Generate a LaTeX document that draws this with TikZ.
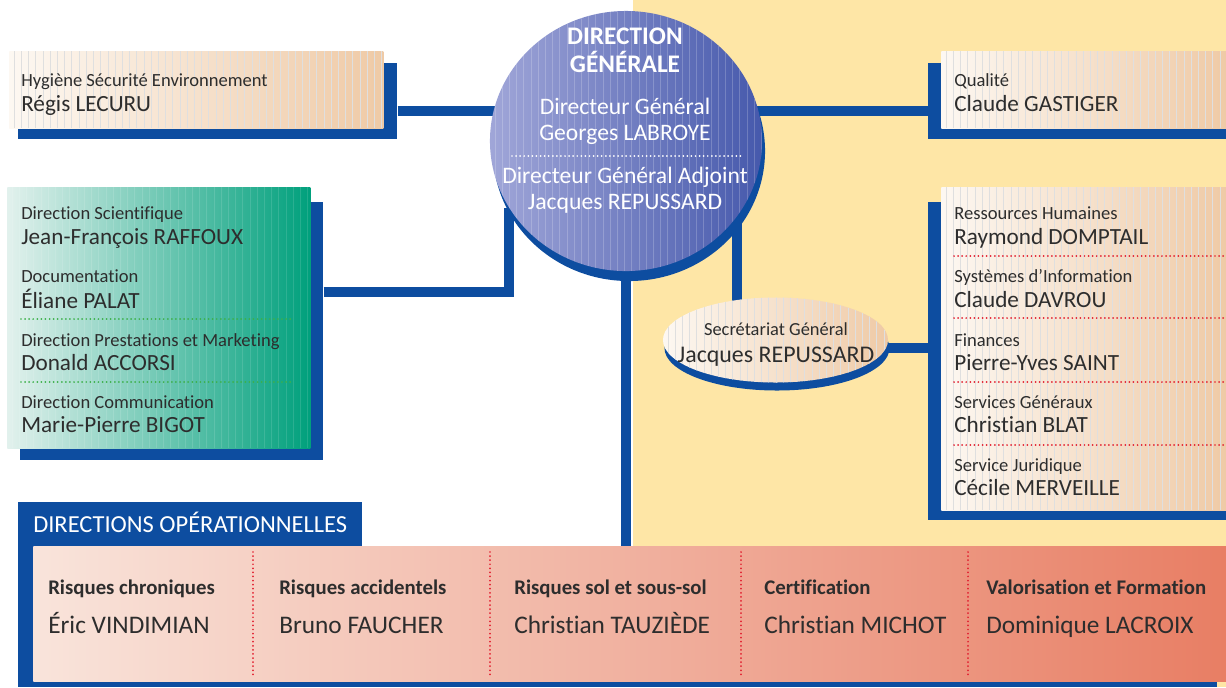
\documentclass[tikz,border=0pt]{standalone}
\usepackage{fontspec}
\setmainfont{Carlito}[Ligatures=NoCommon]
\usepackage{tikz}
\usepackage{xcolor}
\usetikzlibrary{backgrounds,shapes.geometric}

\definecolor{orgblue}{RGB}{13,77,160}
\definecolor{sand}{RGB}{254,230,166}
\definecolor{peachL}{RGB}{253,248,242}
\definecolor{peachR}{RGB}{239,202,166}
\definecolor{greenL}{RGB}{226,241,237}
\definecolor{greenR}{RGB}{0,160,124}
\definecolor{salmonL}{RGB}{249,228,219}
\definecolor{salmonR}{RGB}{232,126,100}
\definecolor{discL}{RGB}{160,166,216}
\definecolor{discR}{RGB}{70,89,172}
\definecolor{ink}{RGB}{45,45,45}
\definecolor{dotred}{RGB}{226,32,48}
\definecolor{dotgreen}{RGB}{60,176,74}

\tikzset{
  ribs/.style={path picture={\foreach \k in {0.12,0.3,...,11.9}
      \draw[#1, line width=0.3pt] ([xshift=\k cm]path picture bounding box.north west) -- ([xshift=\k cm]path picture bounding box.south west);}},
  ribs/.default={gray!25},
  shadowbox/.style={rectangle, fill=orgblue, anchor=north west, inner sep=0pt},
  peachbox/.style={rectangle, anchor=north west, inner sep=0pt, left color=peachL, right color=peachR, ribs},
  greenbox/.style={rectangle, anchor=north west, inner sep=0pt, left color=greenL, right color=greenR, ribs={white, opacity=0.12}},
  salmonbox/.style={rectangle, anchor=north west, inner sep=0pt, left color=salmonL, right color=salmonR},
  link/.style={draw=orgblue, line width=0.25cm},
  reddots/.style={draw=dotred, line width=1.4pt, line cap=round, dash pattern=on 0pt off 2.9pt},
  greendots/.style={draw=dotgreen, line width=1.4pt, line cap=round, dash pattern=on 0pt off 2.9pt},
  whitedots/.style={draw=white, line width=1.4pt, line cap=round, dash pattern=on 0pt off 2.9pt},
  unit/.style={anchor=base west, inner sep=0pt, text=ink, font=\fontsize{13.2}{16}\selectfont},
  boss/.style={anchor=base west, inner sep=0pt, text=ink, font=\fontsize{16.5}{20}\selectfont},
  dgtitle/.style={anchor=base, inner sep=0pt, text=white, font=\bfseries\fontsize{18}{20}\selectfont},
  dgname/.style={anchor=base, inner sep=0pt, text=white, font=\fontsize{16.8}{21}\selectfont},
  colunit/.style={anchor=base west, inner sep=0pt, text=ink, font=\bfseries\fontsize{14.8}{17}\selectfont},
  colboss/.style={anchor=base west, inner sep=0pt, text=ink, font=\fontsize{18}{21}\selectfont}
}

\begin{document}
\begin{tikzpicture}[x=0.025cm, y=-0.025cm]
\useasboundingbox (0,0) rectangle (1226,687);

% fond
\begin{pgfonlayer}{background}
  \fill[white] (0,0) rectangle (1226,687);
  \fill[sand] (633,0) rectangle (1226,687);
\end{pgfonlayer}

% Hygiene securite environnement
\node[shadowbox, minimum width=9.475cm, minimum height=1.9cm] (hsesh) at (18,63) {};
\node[peachbox, minimum width=9.35cm, minimum height=1.925cm] (hse) at (9,51) {};
\node[unit] (hset) at (21,86) {Hygiène Sécurité Environnement};
\node[boss] (hsen) at (21,111) {Régis LECURU};

% Qualite
\node[shadowbox, minimum width=7.45cm, minimum height=1.9cm] (qualsh) at (928,63) {};
\node[peachbox, minimum width=7.125cm, minimum height=1.925cm] (qual) at (941,51) {};
\node[unit] (qualt) at (954,86) {Qualité};
\node[boss] (qualn) at (954,111) {Claude GASTIGER};

% directions rattachees
\node[shadowbox, minimum width=7.575cm, minimum height=6.45cm] (scish) at (20,202) {};
\node[greenbox, minimum width=7.575cm, minimum height=6.525cm] (sci) at (7,187) {};
\node[unit] (scit) at (21,219) {Direction Scientifique};
\node[boss] (scin) at (21,244) {Jean-François RAFFOUX};
\node[unit] (doct) at (21,282) {Documentation};
\node[boss] (docn) at (21,308) {Éliane PALAT};
\node[unit] (mktt) at (21,346) {Direction Prestations et Marketing};
\node[boss] (mktn) at (21,370) {Donald ACCORSI};
\node[unit] (comt) at (21,408) {Direction Communication};
\node[boss] (comn) at (21,432) {Marie-Pierre BIGOT};
\draw[greendots] (21,319) -- (293,319);
\draw[greendots] (21,382) -- (293,382);

% services generaux
\node[shadowbox, minimum width=7.45cm, minimum height=7.95cm] (adminsh) at (928,202) {};
\node[peachbox, minimum width=7.125cm, minimum height=8.075cm] (admin) at (941,187) {};
\node[unit] (rht) at (954,219) {Ressources Humaines};
\node[boss] (rhn) at (954,244) {Raymond DOMPTAIL};
\node[unit] (sit) at (954,282) {Systèmes d’Information};
\node[boss] (sin) at (954,307) {Claude DAVROU};
\node[unit] (fint) at (954,346) {Finances};
\node[boss] (finn) at (954,370) {Pierre-Yves SAINT};
\node[unit] (sgxt) at (954,408) {Services Généraux};
\node[boss] (sgxn) at (954,432) {Christian BLAT};
\node[unit] (jurt) at (954,471) {Service Juridique};
\node[boss] (jurn) at (954,495) {Cécile MERVEILLE};
\foreach \y in {256,318,382,445}
  \draw[reddots] (954,\y) -- (1226,\y);

% direction generale
\node[ellipse, fill=orgblue, minimum width=6.8cm, minimum height=6.5cm, inner sep=0pt] (dgsh) at (629,151) {};
\node[ellipse, left color=discL, right color=discR, ribs={white, opacity=0.2}, minimum width=6.8cm, minimum height=6.5cm, inner sep=0pt] (dg) at (626,141) {};
\node[dgtitle] (dgt1) at (625,44) {DIRECTION};
\node[dgtitle] (dgt2) at (625,72) {GÉNÉRALE};
\node[dgname] (dgf) at (625,114) {Directeur Général};
\node[dgname] (dgn) at (625,140) {Georges LABROYE};
\draw[whitedots] (512,156) -- (741,156);
\node[dgname] (dgaf) at (625,183) {Directeur Général Adjoint};
\node[dgname] (dgan) at (625,209) {Jacques REPUSSARD};

% secretariat general
\node[ellipse, fill=orgblue, minimum width=5.625cm, minimum height=2.125cm, inner sep=0pt] (sgsh) at (777,348) {};
\node[ellipse, left color=peachL, right color=peachR, ribs, minimum width=5.625cm, minimum height=2.125cm, inner sep=0pt] (sg) at (775.5,340) {};
\node[anchor=base, inner sep=0pt, text=ink, font=\fontsize{13.1}{15}\selectfont] (sgt) at (776,335) {Secrétariat Général};
\node[anchor=base, inner sep=0pt, text=ink, font=\fontsize{17}{20}\selectfont] (sgn) at (776,362) {Jacques REPUSSARD};

% directions operationnelles
\node[shadowbox, minimum width=8.6cm, minimum height=1.2cm] (optab) at (18,502) {};
\node[shadowbox, minimum width=29.95cm, minimum height=3.525cm] (opsh) at (18,546) {};
\node[salmonbox, minimum width=29.825cm, minimum height=3.375cm] (ops) at (33,546) {};
\node[anchor=base west, inner sep=0pt, text=white, font=\fontsize{17.4}{20}\selectfont] (opst) at (33,532) {DIRECTIONS OPÉRATIONNELLES};

\node[colunit] (chrt) at (48,594) {Risques chroniques};
\node[colboss] (chrn) at (48,633) {Éric VINDIMIAN};
\node[colunit] (acct) at (279,594) {Risques accidentels};
\node[colboss] (accn) at (279,633) {Bruno FAUCHER};
\node[colunit] (solt) at (514,594) {Risques sol et sous-sol};
\node[colboss] (soln) at (514,633) {Christian TAUZIÈDE};
\node[colunit] (cert) at (764,594) {Certification};
\node[colboss] (cern) at (764,633) {Christian MICHOT};
\node[colunit] (valt) at (986,594) {Valorisation et Formation};
\node[colboss] (valn) at (986,633) {Dominique LACROIX};
\foreach \x in {253,490,741,968}
  \draw[reddots] (\x,552) -- (\x,677);

% liaisons
\begin{pgfonlayer}{background}
  \draw[link] (hsesh.east |- 0,111) -- (dg.center |- 0,111);
  \draw[link] (dg.center |- 0,111) -- (qualsh.west |- 0,111);
  \draw[link] (scish.east |- 0,292) -| (dg.210);
  \draw[link] (dg.-34) -- (dg.-34 |- sg.center);
  \draw[link] (sg.center |- 0,348) -- (adminsh.west |- 0,348);
  \draw[link] (dg.center) -- (dg.center |- ops.north);
\end{pgfonlayer}
\end{tikzpicture}
\end{document}
